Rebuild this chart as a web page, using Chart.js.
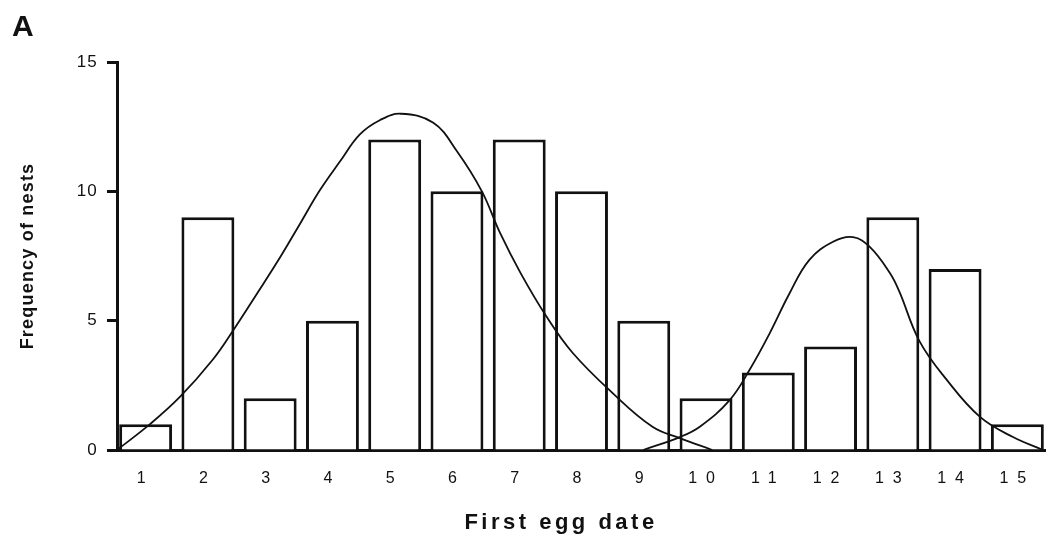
<!DOCTYPE html>
<html>
<head>
<meta charset="utf-8">
<title>First egg date</title>
<script src="https://cdn.jsdelivr.net/npm/chart.js@4.4.1/dist/chart.umd.min.js"></script>
<style>
  html, body { margin: 0; padding: 0; background: #fff; }
  #wrap { width: 1046px; height: 538px; }
</style>
</head>
<body>
<div id="wrap"><canvas id="nests"></canvas></div>
<script>
// first egg date (day class) and number of nests started in each
const eggDates = [1, 2, 3, 4, 5, 6, 7, 8, 9, 10, 11, 12, 13, 14, 15];
const nestCounts = [1, 9, 2, 5, 12, 10, 12, 10, 5, 2, 3, 4, 9, 7, 1];
const yTicks = [0, 5, 10, 15];

// fitted curve over the early laying peak
const earlyX = [0.54, 1.07, 1.55, 2.08, 2.4, 2.79, 3.16, 3.48, 3.8, 4.12, 4.44, 4.76, 5.1,
                5.62, 6.0, 6.4, 6.69, 7.02, 7.44, 7.86, 8.5, 9.14, 9.58, 10.1];
const earlyY = [0, 1.0, 2.05, 3.5, 4.6, 6.05, 7.45, 8.75, 10.05, 11.15, 12.2, 12.75, 13.0,
                12.65, 11.55, 10.0, 8.4, 6.85, 5.15, 3.75, 2.2, 0.9, 0.46, 0];

// fitted curve over the late (second) peak
const lateX = [8.99, 9.58, 9.9, 10.38, 10.7, 11.02, 11.34, 11.66, 12.04, 12.36, 12.63,
               12.95, 13.1, 13.43, 13.87, 14.4, 14.93, 15.41];
const lateY = [0, 0.5, 0.9, 1.93, 3.1, 4.5, 6.05, 7.35, 8.05, 8.23, 7.85,
               6.85, 6.15, 4.2, 2.7, 1.28, 0.5, 0];

const INK = '#111';
Chart.defaults.font.family = '"Liberation Sans", Arial, sans-serif';
Chart.defaults.color = INK;

const toPoints = (xs, ys) => xs.map((x, i) => ({ x: x, y: ys[i] }));

// letter spacing for the axis text, and the x axis caption
const axisText = {
  id: 'axisText',
  beforeDraw(chart) {
    chart.ctx.letterSpacing = '1.2px';
  },
  afterDatasetsDraw(chart) {
    // x tick labels sit on layer z:1, so they are drawn after this
    chart.ctx.letterSpacing = '9px';
  },
  afterDraw(chart) {
    const ctx = chart.ctx;
    ctx.save();
    ctx.letterSpacing = '3.5px';
    ctx.font = 'bold 22px "Liberation Sans", Arial, sans-serif';
    ctx.fillStyle = INK;
    ctx.textAlign = 'center';
    ctx.textBaseline = 'middle';
    ctx.fillText('First egg date', 561, 523);
    ctx.restore();
    ctx.letterSpacing = '0px';
  }
};

const curveStyle = {
  type: 'line',
  borderColor: INK,
  borderWidth: 1.8,
  pointRadius: 0,
  fill: false,
  tension: 0.4,
  order: 0
};

new Chart(document.getElementById('nests'), {
  type: 'bar',
  data: {
    datasets: [
      {
        label: 'Nests',
        data: toPoints(eggDates, nestCounts),
        backgroundColor: '#fff',
        borderColor: INK,
        borderWidth: 3,
        categoryPercentage: 1,
        barPercentage: 0.85,
        order: 1
      },
      Object.assign({ label: 'Early', data: toPoints(earlyX, earlyY) }, curveStyle),
      Object.assign({ label: 'Late', data: toPoints(lateX, lateY) }, curveStyle)
    ]
  },
  options: {
    responsive: true,
    maintainAspectRatio: false,
    animation: false,
    layout: { padding: { left: 12, top: 0, right: 0, bottom: 0 } },
    plugins: {
      legend: { display: false },
      tooltip: { enabled: false },
      title: {
        display: true,
        text: 'A',
        align: 'start',
        color: INK,
        font: { size: 30, weight: 'bold' },
        padding: { top: 10, bottom: 16 }
      }
    },
    scales: {
      x: {
        type: 'linear',
        offset: false,
        min: 0.54,
        max: 15.46,
        afterBuildTicks: s => { s.ticks = eggDates.map(v => ({ value: v })); },
        afterFit: s => { s.height = 88; },
        grid: { display: false, offset: false },
        border: { display: true, color: INK, width: 3 },
        ticks: { z: 1, color: INK, padding: 11, autoSkip: false, maxRotation: 0, font: { size: 16 } }
      },
      y: {
        min: 0,
        max: 15,
        afterBuildTicks: s => { s.ticks = yTicks.map(v => ({ value: v })); },
        afterFit: s => { s.width = 105; },
        grid: { drawOnChartArea: false, drawTicks: true, tickLength: 10, tickWidth: 3, tickColor: INK },
        border: { color: INK, width: 3 },
        ticks: { color: INK, padding: 9, font: { size: 17 } },
        title: {
          display: true,
          text: 'Frequency of nests',
          color: INK,
          font: { size: 18, weight: 'bold' },
          padding: { top: 5 }
        }
      }
    }
  },
  plugins: [axisText]
});
</script>
</body>
</html>
